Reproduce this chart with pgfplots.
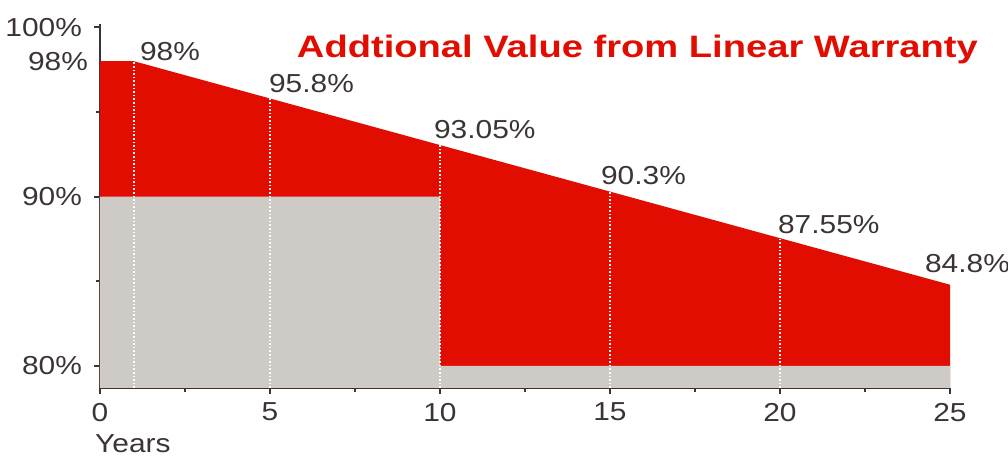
\documentclass[border=0pt]{standalone}
\usepackage{fontspec}
\setmainfont{Liberation Sans}[FakeStretch=1.15]
\newfontfamily\titlefont{Liberation Sans}[FakeStretch=1.23]
\usepackage{pgfplots}
\pgfplotsset{compat=1.18}
\definecolor{warred}{RGB}{225,13,0}
\definecolor{wargray}{RGB}{206,203,199}
\definecolor{txt}{RGB}{60,52,52}

\begin{document}
\begin{tikzpicture}
\begin{axis}[
    name=ax, at={(0,0)}, anchor=south west,
    scale only axis, width=425pt, height=182pt,
    xmin=0, xmax=25, ymin=78.7, ymax=100.2,
    axis x line*=bottom, axis y line*=left,
    axis line style={txt, line width=1.1pt},
    tick style={txt, line width=0.9pt},
    tick align=outside,
    major tick length=3pt, minor tick length=2pt,
    xtick={0,5,...,25}, minor xtick={2.5,7.5,...,22.5},
    ytick={80,90,100}, minor ytick={85,95},
    yticklabel={\pgfmathprintnumber{\tick}\%},
    extra y ticks={98}, extra y tick labels={98\%},
    extra y tick style={major tick length=0pt},
    tick label style={font=\fontsize{13}{15}\selectfont, text=txt},
    yticklabel style={xshift=-2.5pt},
    xticklabel style={yshift=-1pt},
    /pgf/number format/assume math mode=true,
    clip mode=individual,
  ]
  % linear warranty (red area)
  \addplot[fill=warred, draw=none] coordinates {
    (0,98) (1,98) (5,95.8) (10,93.05) (15,90.3) (20,87.55) (25,84.8)
  } \closedcycle;
  % step warranty (grey area)
  \addplot[fill=wargray, draw=none] coordinates {
    (0,90) (10,90) (10,80) (25,80)
  } \closedcycle;
  % white dotted markers
  \addplot[ycomb, white, densely dotted, line width=0.8pt, no markers] coordinates {
    (1,98) (5,95.8) (10,93.05) (15,90.3) (20,87.55)
  };

  \begin{scope}[every node/.style={anchor=base west, text=txt, font=\fontsize{13}{15}\selectfont}]
  \node[xshift=-0.5pt, yshift=0.5pt] at (axis cs:1,98) {98\%};
  \node[xshift=-4pt, yshift=3pt] at (axis cs:5,95.8) {95.8\%};
  \node[xshift=-6.5pt, yshift=3.5pt] at (axis cs:10,93.05) {93.05\%};
  \node[xshift=-8pt, yshift=3.5pt] at (axis cs:15,90.3) {90.3\%};
  \node[xshift=-4.5pt, yshift=2.5pt] at (axis cs:20,87.55) {87.55\%};
  \node[xshift=-16pt, yshift=6pt] at (axis cs:25,84.8) {84.8\%};
  \end{scope}

  \node[anchor=base east, text=warred, font=\titlefont\bfseries\fontsize{15.5}{18}\selectfont]
    at (axis description cs:1.041,0.9066) {Addtional Value from Linear Warranty};
  \node[anchor=base west, text=txt, font=\fontsize{13}{15}\selectfont]
    at (axis description cs:-0.014,-0.176) {Years};
\end{axis}
\pgfresetboundingbox
\path[use as bounding box] (-50pt,-35pt) rectangle (454pt,194pt);
\end{tikzpicture}
\end{document}
